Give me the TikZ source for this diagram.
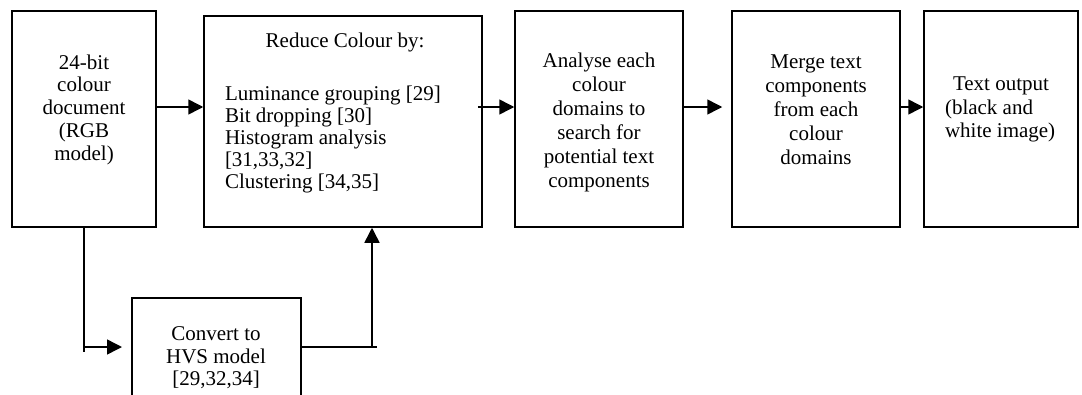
\documentclass[tikz,border=0pt]{standalone}
\usepackage{fontspec}
\setmainfont{Liberation Serif}
\usetikzlibrary{arrows.meta}
\tikzset{
  box/.style = {draw, line width=0.9pt, inner sep=0pt},
  txt/.style = {inner sep=0pt, outer sep=0pt,
                font=\fontsize{12.6pt}{14.4pt}\selectfont},
  line/.style = {line width=0.9pt},
  arr/.style = {line width=0.9pt, -{Triangle[length=9pt, width=9pt]}}
}

\begin{document}
\begin{tikzpicture}[x=0.6pt, y=-0.6pt]
	\def\pxl{0.6pt}
	\clip (0,0) rectangle (1082,394);

	% Boxes
	\node[box, minimum width=144*\pxl, minimum height=216*\pxl] (doc) at (84,119) {};
	\node[box, minimum width=278*\pxl, minimum height=211*\pxl] (reduce) at (343,121.5) {};
	\node[box, minimum width=168*\pxl, minimum height=216*\pxl] (analyse) at (599,119) {};
	\node[box, minimum width=168*\pxl, minimum height=216*\pxl] (merge) at (816,119) {};
	\node[box, minimum width=154*\pxl, minimum height=216*\pxl] (out) at (1001,119) {};
	\node[box, minimum width=169*\pxl, minimum height=122*\pxl] (hvs) at (216.5,359) {};

	% Texts
	\node[txt, anchor=north, align=center, font=\fontsize{12.6pt}{13.7pt}\selectfont] (doctxt) at (84,54.5)
		{24-bit\\colour\\document\\(RGB\\model)};
	\node[txt, anchor=north] (title) at (345,33) {Reduce Colour by:};
	\node[txt, anchor=north west, align=left, font=\fontsize{12.6pt}{13.3pt}\selectfont] (methods) at (225,85.5)
		{Luminance grouping [29]\\Bit dropping [30]\\Histogram analysis\\{}[31,33,32]\\Clustering [34,35]};
	\node[txt, anchor=north, align=center] (analysetxt) at (599,53)
		{Analyse each\\colour\\domains to\\search for\\potential text\\components};
	\node[txt, anchor=north, align=center] (mergetxt) at (816,55)
		{Merge text\\components\\from each\\colour\\domains};
	\node[txt, anchor=north west, align=left, font=\fontsize{12.6pt}{14.1pt}\selectfont] (outtxt) at (945,77)
		{\hspace{4.8pt}Text output\\(black and\\white image)};
	\node[txt, anchor=north, align=center, font=\fontsize{12.6pt}{13.5pt}\selectfont] (hvstxt) at (216,327)
		{Convert to\\HVS model\\{}[29,32,34]};

	% Arrows along the top row
	\coordinate (mid) at (0,107);
	\coordinate (r2) at ([xshift=-5*\pxl]reduce.east);
	\coordinate (m3) at ([xshift=-9*\pxl]merge.west);
	\draw[arr] (doc.east |- mid) -- (reduce.west |- mid);
	\draw[arr] (r2 |- mid) -- (analyse.west |- mid);
	\draw[arr] (analyse.east |- mid) -- (m3 |- mid);
	\draw[arr] (merge.east |- mid) -- (out.west |- mid);

	% Detour through HVS
	\coordinate (hvsin) at (122,347);
	\coordinate (jn) at (372,347);
	\draw[line] (doc.south) -- (doc.south |- hvsin) -- ++(0,5);
	\draw[arr] (doc.south |- hvsin) -- (hvsin);
	\draw[line] (hvs.east |- jn) -- ([xshift=5*\pxl]jn);
	\draw[arr] (jn) -- (jn |- reduce.south);

\end{tikzpicture}
\end{document}
